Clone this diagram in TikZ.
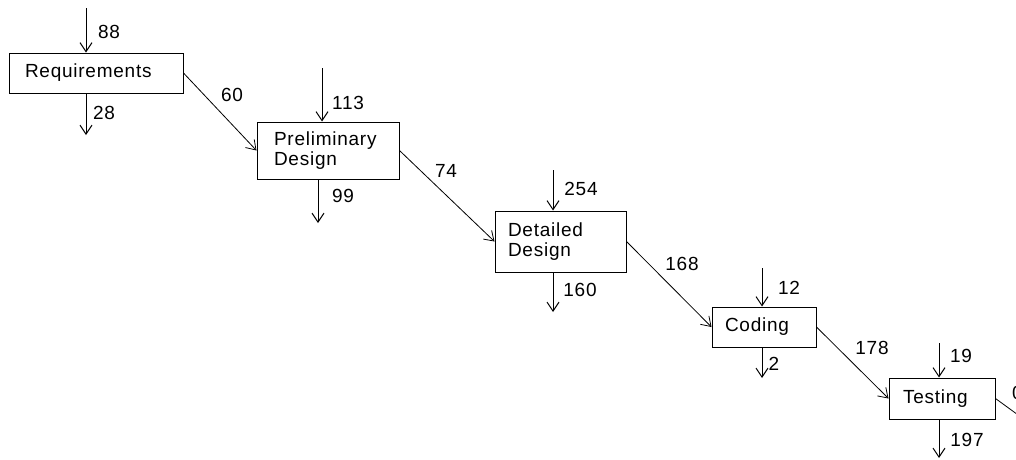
\documentclass[tikz,border=0pt]{standalone}
\usepackage{fontspec}
\setmainfont[LetterSpace=4]{Liberation Sans}
\usetikzlibrary{arrows.meta}
\begin{document}
\begin{tikzpicture}[x=1pt,y=-1pt,
  every node/.style={font=\fontsize{19}{20}\selectfont, text=black},
  box/.style={draw, line width=1pt, align=left, inner ysep=0pt, anchor=center},
  arr/.style={line width=1pt, -{Straight Barb[length=9pt,width=12pt,line width=1pt]}},
  diag/.style={line width=0.8pt, -{Straight Barb[length=9pt,width=12pt,line width=0.8pt]}},
  lbl/.style={inner sep=0pt, anchor=center}]
\useasboundingbox (0,0) rectangle (1016,459);
\clip (0,0) rectangle (1016,459);
% boxes
\node[box, minimum width=174pt, minimum height=40pt, text width=142pt, inner xsep=16pt] (req) at (96,73) {Requirements};
\node[box, minimum width=142pt, minimum height=57pt, text width=108pt, inner xsep=17pt] (pre) at (328,150.5) {Preliminary\\Design};
\node[box, minimum width=131pt, minimum height=61pt, text width=105pt, inner xsep=13pt] (det) at (560.5,241.5) {Detailed\\Design};
\node[box, minimum width=104pt, minimum height=40pt, text width=78pt, inner xsep=13pt] (cod) at (764,327) {Coding};
\node[box, minimum width=106pt, minimum height=41pt, text width=78pt, inner xsep=14pt] (tes) at (942,398.5) {Testing};
% input / output coordinates
\coordinate (reqin) at (86,8);   \coordinate (reqout) at (86,135);
\coordinate (prein) at (322,68); \coordinate (preout) at (318,223);
\coordinate (detin) at (553,170);\coordinate (detout) at (553,312);
\coordinate (codin) at (762,268);\coordinate (codout) at (762,378);
\coordinate (tesin) at (939,343);\coordinate (tesout) at (939,458);
\coordinate (tesnext) at (1036,428);
% vertical arrows
\draw[arr] (reqin) -- (reqin |- req.north);
\draw[arr] (reqin |- req.south) -- (reqout);
\draw[arr] (prein) -- (prein |- pre.north);
\draw[arr] (preout |- pre.south) -- (preout);
\draw[arr] (detin) -- (detin |- det.north);
\draw[arr] (detout |- det.south) -- (detout);
\draw[arr] (codin) -- (codin |- cod.north);
\draw[arr] (codout |- cod.south) -- (codout);
\draw[arr] (tesin) -- (tesin |- tes.north);
\draw[arr] (tesout |- tes.south) -- (tesout);
% diagonal arrows
\draw[diag] (req.east) -- (pre.west);
\draw[diag] (pre.east) -- (det.west);
\draw[diag] (det.east) -- (cod.west);
\draw[diag] (cod.east) -- (tes.west);
\draw[diag] (tes.east) -- (tesnext);
% labels
\node[lbl] (l88) at (109,32) {88};
\node[lbl] (l28) at (104,113) {28};
\node[lbl] (l60) at (232,95) {60};
\node[lbl] (l113) at (348,103) {113};
\node[lbl] (l99) at (343,196) {99};
\node[lbl] (l74) at (446,171) {74};
\node[lbl] (l254) at (581,189) {254};
\node[lbl] (l160) at (580,290) {160};
\node[lbl] (l168) at (682,264) {168};
\node[lbl] (l12) at (789,288) {12};
\node[lbl] (l2) at (774,364) {2};
\node[lbl] (l178) at (872,348) {178};
\node[lbl] (l19) at (961,356) {19};
\node[lbl] (l197) at (967,440) {197};
\node[lbl, anchor=west] (l0) at (1012,393) {0};
\end{tikzpicture}
\end{document}
